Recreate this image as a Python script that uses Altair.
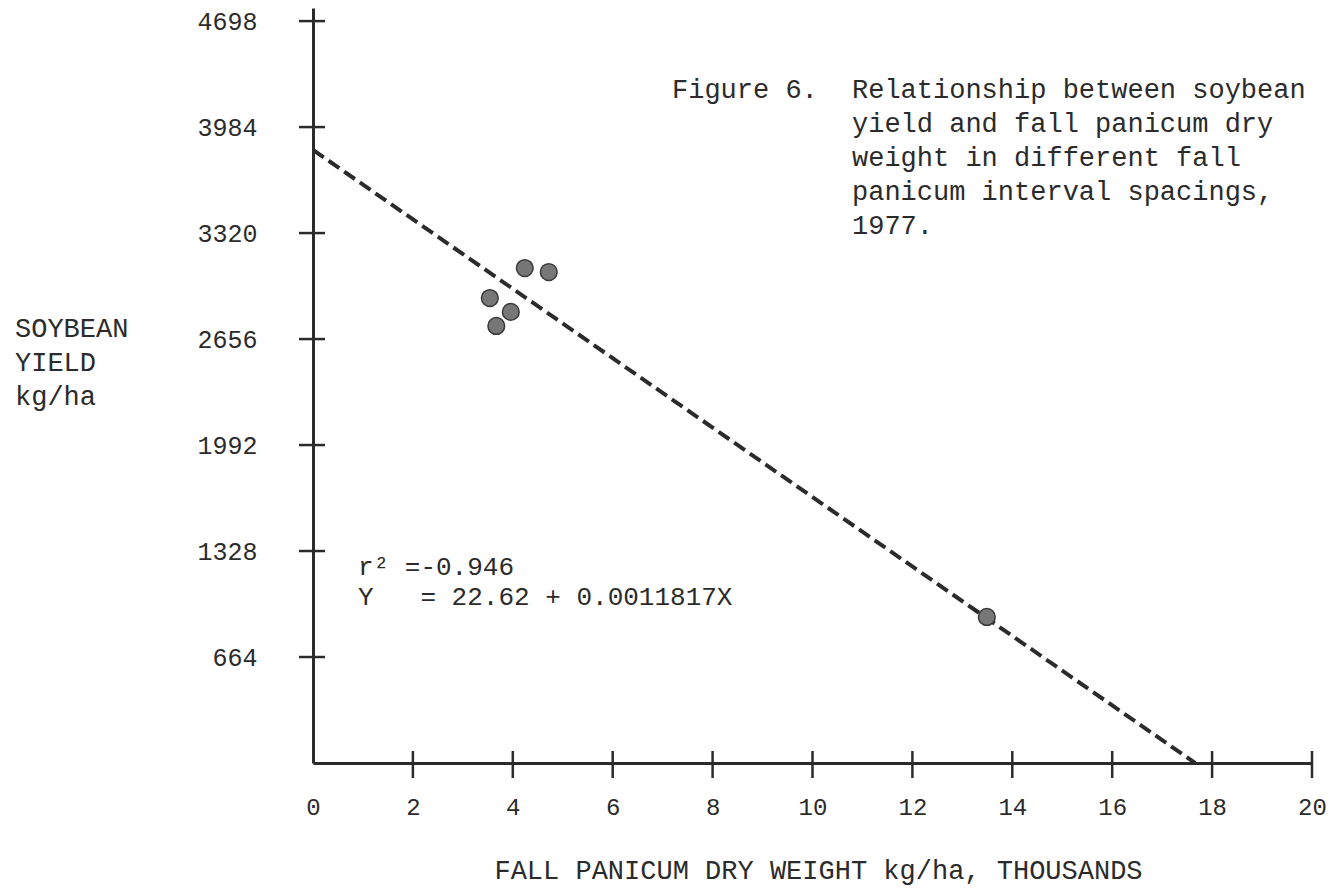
import altair as alt
import pandas as pd

# ---- data ----
pt_x = [4.24, 4.72, 3.54, 3.96, 3.67, 13.49]
pt_y = [3101, 3076, 2913, 2826, 2738, 915]
fit_x = [0.0, 17.66]
fit_y = [3841, 0]
x_tick_values = [0, 2, 4, 6, 8, 10, 12, 14, 16, 18, 20]
x_cross_ticks = [2, 4, 6, 8, 10, 12, 14, 16, 18, 20]
y_tick_values = [664, 1328, 1992, 2656, 3320, 3984, 4648]
y_tick_labels = ["664", "1328", "1992", "2656", "3320", "3984", "4698"]
caption_first = "Figure 6."
caption_lines = [
    "Relationship between soybean",
    "yield and fall panicum dry",
    "weight in different fall",
    "panicum interval spacings,",
    "1977.",
]
NB = "\u00a0"
equation_lines = ["r\u00b2" + NB + "=-0.946", "Y" + NB * 3 + "=" + NB + "22.62 + 0.0011817X"]
y_title_lines = ["SOYBEAN", "YIELD", "kg/ha"]
x_title = "FALL PANICUM DRY WEIGHT kg/ha, THOUSANDS"

FONT = "Liberation Mono"
INK = "#2b2b2b"
W, H = 999, 755

label_expr = ""
for v, l in zip(y_tick_values, y_tick_labels):
    label_expr += f"datum.value == {v} ? '{l}' : "
label_expr += "datum.label"

xs = alt.Scale(domain=[0, 20], nice=False, zero=False)
ys = alt.Scale(domain=[0, 4730], nice=False, zero=False)

x_axis = alt.Axis(
    values=x_tick_values, ticks=False, tickSize=0, grid=False,
    domainColor=INK, domainWidth=3,
    labelFont=FONT, labelFontSize=24, labelColor=INK, labelPadding=51,
    labelBaseline="alphabetic", labelFlush=False, labelOverlap=False,
    title=x_title, titleFont=FONT, titleFontSize=27, titleFontWeight="normal",
    titleColor=INK, titleX=505, titleY=115, titleAlign="center",
    titleBaseline="alphabetic", titleAngle=0,
)
y_axis = alt.Axis(
    values=y_tick_values, ticks=False, tickSize=0, grid=False,
    domainColor=INK, domainWidth=3,
    labelFont=FONT, labelFontSize=25, labelColor=INK, labelPadding=56,
    labelExpr=label_expr, labelOverlap=False, labelFlush=False,
    title=None,
)

X = alt.X("x:Q", scale=xs, axis=x_axis)
Y = alt.Y("y:Q", scale=ys, axis=y_axis)

pts_df = pd.DataFrame({"x": pt_x, "y": pt_y})
fit_df = pd.DataFrame({"x": fit_x, "y": fit_y})
ytick_df = pd.DataFrame({"y": y_tick_values})
xtick_df = pd.DataFrame({"x": x_cross_ticks})
one = pd.DataFrame({"d": [0]})

fit = alt.Chart(fit_df).mark_line(
    color=INK, strokeWidth=4, strokeDash=[13, 6]
).encode(x=X, y=Y)

points = alt.Chart(pts_df).mark_point(
    filled=True, shape="circle", size=280, fill="#777777",
    stroke="#3a3a3a", strokeWidth=1.5, opacity=1
).encode(x=X, y=Y)

yticks = alt.Chart(ytick_df).mark_rule(color=INK, strokeWidth=2.5).encode(
    y=Y, x=alt.value(-14), x2=alt.value(12)
)
xticks = alt.Chart(xtick_df).mark_rule(color=INK, strokeWidth=2.5).encode(
    x=X, y=alt.value(H - 12), y2=alt.value(H + 15)
)

texts = []
def txt(s, px, py, size=27):
    return alt.Chart(one).mark_text(
        font=FONT, fontSize=size, color=INK, align="left", baseline="alphabetic"
    ).encode(x=alt.value(px), y=alt.value(py), text=alt.value(s))

texts.append(txt(caption_first, 359, 90))
for i, s in enumerate(caption_lines):
    texts.append(txt(s, 539, 90 + 34 * i))
for i, s in enumerate(equation_lines):
    texts.append(txt(s, 45, 567 + 30 * i, size=26))
for i, s in enumerate(y_title_lines):
    texts.append(txt(s, -298, 329 + 34 * i))

chart = alt.layer(fit, points, yticks, xticks, *texts).properties(
    width=W, height=H,
    autosize=alt.AutoSizeParams(type="none"),
    padding={"left": 305, "top": 0, "right": 15, "bottom": 125},
    background="white",
).configure_view(stroke=None)

chart.save("out.html", embed_options={"renderer": "svg", "actions": False})
